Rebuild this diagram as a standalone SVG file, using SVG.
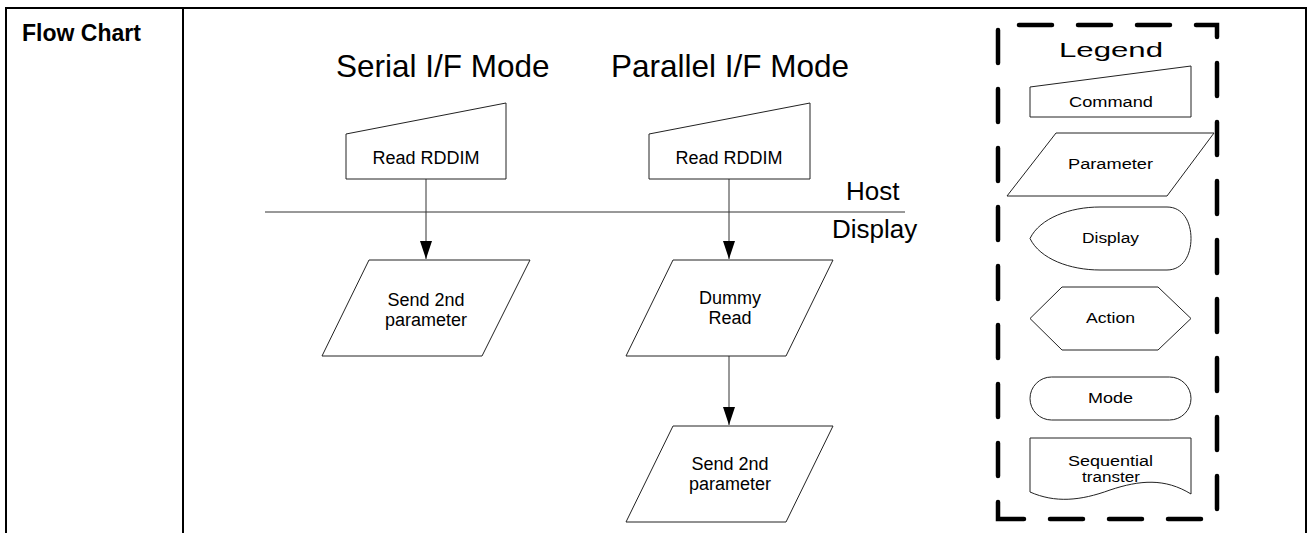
<svg xmlns="http://www.w3.org/2000/svg" width="1309" height="533" viewBox="0 0 1309 533">
<style>
.frame{fill:none;stroke:#000;stroke-width:2}
.shape{fill:#fff;stroke:#222;stroke-width:1}
.conn{fill:none;stroke:#333;stroke-width:1}
.t{font-family:"Liberation Sans",Arial,sans-serif;fill:#000}
.c{text-anchor:middle}
.legbox{fill:none;stroke:#000;stroke-width:4.5;stroke-linecap:round;stroke-dasharray:33 26;stroke-dashoffset:16}
</style>
<defs>
<marker id="arrow" markerWidth="18" markerHeight="12" refX="18" refY="6" orient="auto" markerUnits="userSpaceOnUse" viewBox="0 0 18 12">
<path d="M0,0 L18,6 L0,12 Z" fill="#000"/>
</marker>
</defs>
<rect width="1309" height="533" fill="#fff"/>
<g id="table">
<path class="frame" d="M6,533 V8 H1306 V533 M183,8 V533"/>
<text class="t" x="22" y="41" font-size="23" font-weight="bold">Flow Chart</text>
</g>
<g id="titles">
<text class="t" x="336" y="77" font-size="31.5">Serial I/F Mode</text>
<text class="t" x="611" y="77" font-size="31.5">Parallel I/F Mode</text>
</g>
<g id="boundary">
<line class="conn" x1="265" y1="212" x2="905" y2="212"/>
<text class="t" x="846" y="200" font-size="26">Host</text>
<text class="t" x="832" y="238" font-size="26">Display</text>
</g>
<g id="connectors">
<line class="conn" x1="426" y1="179" x2="426" y2="259" marker-end="url(#arrow)"/>
<line class="conn" x1="729" y1="179" x2="729" y2="259" marker-end="url(#arrow)"/>
<line class="conn" x1="729" y1="356" x2="729" y2="425" marker-end="url(#arrow)"/>
</g>
<g id="serial-read">
<polygon class="shape" points="346,134 506,103 506,179 346,179"/>
<text class="t c" x="426" y="164" font-size="18">Read RDDIM</text>
</g>
<g id="serial-send">
<polygon class="shape" points="369,260 530,260 482,356 322,356"/>
<text class="t c" x="426" y="306" font-size="18">Send 2nd</text>
<text class="t c" x="426" y="326" font-size="18">parameter</text>
</g>
<g id="parallel-read">
<polygon class="shape" points="649,134 810,103 810,179 649,179"/>
<text class="t c" x="729" y="164" font-size="18">Read RDDIM</text>
</g>
<g id="parallel-dummy">
<polygon class="shape" points="673,260 833,260 786,356 626,356"/>
<text class="t c" x="730" y="304" font-size="18">Dummy</text>
<text class="t c" x="730" y="324" font-size="18">Read</text>
</g>
<g id="parallel-send">
<polygon class="shape" points="673,426 833,426 786,522 626,522"/>
<text class="t c" x="730" y="470" font-size="18">Send 2nd</text>
<text class="t c" x="730" y="490" font-size="18">parameter</text>
</g>
<g id="legend">
<path class="legbox" d="M998,519 V25 H1217 V519 Z"/>
<text class="t" x="1059" y="57" font-size="21" textLength="104" lengthAdjust="spacingAndGlyphs">Legend</text>
<g id="legend-command">
<polygon class="shape" points="1030,87 1191,66 1191,117 1030,117"/>
<text class="t" x="1069" y="107" font-size="14" textLength="84" lengthAdjust="spacingAndGlyphs">Command</text>
</g>
<g id="legend-parameter">
<polygon class="shape" points="1056,133 1214,133 1167,196 1007,196"/>
<text class="t" x="1068" y="169" font-size="14" textLength="85" lengthAdjust="spacingAndGlyphs">Parameter</text>
</g>
<g id="legend-display">
<path class="shape" d="M1030,238.5 C1040,218 1070,207 1100,207 L1167,207 C1183,207 1191,222 1191,238.5 C1191,255 1183,270 1167,270 L1100,270 C1070,270 1040,259 1030,238.5 Z"/>
<text class="t" x="1082" y="243" font-size="14" textLength="57" lengthAdjust="spacingAndGlyphs">Display</text>
</g>
<g id="legend-action">
<polygon class="shape" points="1030,318.5 1062,287 1158,287 1191,318.5 1158,350 1062,350"/>
<text class="t" x="1086" y="323" font-size="14" textLength="49" lengthAdjust="spacingAndGlyphs">Action</text>
</g>
<g id="legend-mode">
<rect class="shape" x="1030" y="377" width="161" height="43" rx="21.5"/>
<text class="t" x="1088" y="403" font-size="14" textLength="45" lengthAdjust="spacingAndGlyphs">Mode</text>
</g>
<g id="legend-sequential">
<path class="shape" d="M1030,438 H1191 V494 C1165,478 1140,480 1110,490 C1080,501 1055,503 1030,492 Z"/>
<text class="t" x="1068" y="466" font-size="14" textLength="85" lengthAdjust="spacingAndGlyphs">Sequential</text>
<text class="t" x="1082" y="482" font-size="14" textLength="58" lengthAdjust="spacingAndGlyphs">transter</text>
</g>
</g>
</svg>
